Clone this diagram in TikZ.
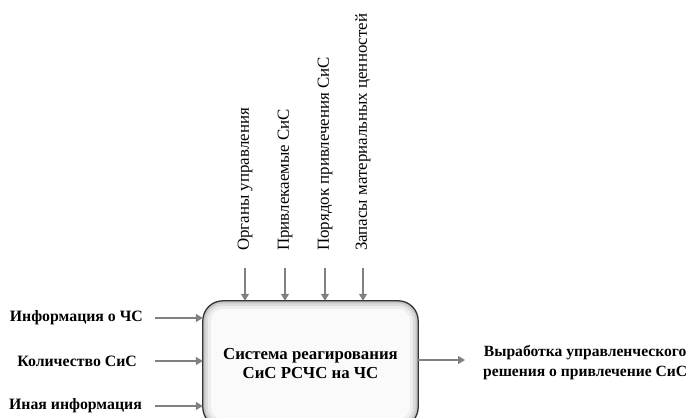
\documentclass[tikz,border=0pt]{standalone}
\usepackage{fontspec}
\setmainfont{Liberation Serif}
\usetikzlibrary{arrows.meta,positioning}

\tikzset{
  arr/.style={draw=gray, line width=1.4pt, -{Triangle[width=8pt,length=7pt]}},
  inlbl/.style={font=\fontsize{15.8}{18}\selectfont\bfseries, anchor=east, inner sep=2pt},
  uplbl/.style={font=\fontsize{16.9}{19}\selectfont, rotate=90, anchor=west, inner sep=1pt},
}

\begin{document}
\begin{tikzpicture}[x=1pt,y=-1pt]
\useasboundingbox (0,0) rectangle (689,418);

% the system box
\node[rounded corners=20pt, fill=white!96!gray,
      minimum width=215pt, minimum height=126pt,
      align=center, font=\fontsize{16.8}{19}\selectfont\bfseries] (sys) at (310.5,364)
      {Система реагирования\\СиС РСЧС на ЧС};
\begin{scope}
  \clip[rounded corners=20pt] (sys.south west) rectangle (sys.north east);
  \foreach \w/\o in {16/0.10, 10/0.15, 5/0.25}
    \draw[gray, line width=\w pt, opacity=\o, rounded corners=20pt]
      (sys.south west) rectangle (sys.north east);
\end{scope}
\draw[gray!40!black, line width=1.3pt, rounded corners=20pt]
  (sys.south west) rectangle (sys.north east);

% inputs
\node[inlbl] (in1) at (145,318) {Информация о ЧС};
\node[inlbl] (in2) at (139,361) {Количество СиС};
\node[inlbl] (in3) at (144,406) {Иная информация};
\draw[arr] (155,318) -- (sys.west |- in1.east);
\draw[arr] (155,361) -- (sys.west |- in2.east);
\draw[arr] (155,406) -- (sys.west |- in3.east);

% controls
\node[uplbl] (up1) at (245,252) {Органы управления};
\node[uplbl] (up2) at (285,252) {Привлекаемые СиС};
\node[uplbl] (up3) at (325,252) {Порядок привлечения СиС};
\node[uplbl] (up4) at (363,252) {Запасы материальных ценностей};
\foreach \n in {up1,up2,up3,up4}
  \draw[arr] ([yshift=-16pt]\n.west) -- (\n.west |- sys.north);

% output
\node[align=center, anchor=west, inner sep=2pt,
      font=\fontsize{15.6}{20}\selectfont\bfseries] (out) at (481,363)
      {Выработка управленческого\\решения о привлечение СиС};
\draw[arr] (sys.east |- 0,360) -- (465,360);

\end{tikzpicture}
\end{document}
